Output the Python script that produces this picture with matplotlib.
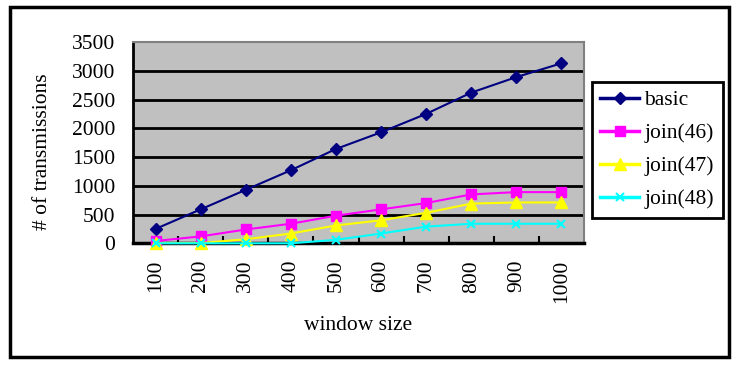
import matplotlib.pyplot as plt
from matplotlib.patches import Rectangle
import numpy as np

plt.rcParams['font.family'] = ['Liberation Serif', 'DejaVu Serif']

# window sizes (categories)
window = ['100', '200', '300', '400', '500', '600', '700', '800', '900', '1000']

# number of transmissions
basic = [250, 590, 930, 1270, 1640, 1930, 2250, 2620, 2890, 3130]
join46 = [40, 120, 240, 340, 480, 590, 700, 850, 890, 890]
join47 = [5, 5, 70, 170, 310, 400, 530, 690, 710, 710]
join48 = [0, 0, 0, 0, 60, 170, 290, 340, 340, 340]

yticks = [0, 500, 1000, 1500, 2000, 2500, 3000, 3500]

fig = plt.figure(figsize=(7.41, 3.69), dpi=100)
ax = fig.add_axes([133/741, 1-243.3/369, 451/741, 201.3/369])
ax.set_facecolor('#C0C0C0')

x = np.arange(len(window))

ax.plot(x, basic, color='#000080', lw=1.5, marker='D', ms=6, label='basic', clip_on=False, zorder=3)
ax.plot(x, join46, color='#FF00FF', lw=1.5, marker='s', ms=7.5, label='join(46)', clip_on=False, zorder=3)
ax.plot(x, join47, color='#FFFF00', lw=1.5, marker='^', ms=8, label='join(47)', clip_on=False, zorder=3)
ax.plot(x, join48, color='#00FFFF', lw=1.5, marker='x', ms=5.5, mew=1.5, label='join(48)', clip_on=False, zorder=3)

ax.set_xlim(-0.5, len(window) - 0.5)
ax.set_ylim(0, 3500)
ax.set_yticks(yticks)
ax.set_yticklabels([str(v) for v in yticks], fontsize=15.5)
ax.set_xticks(x)
ax.set_xticklabels(window, rotation=90, fontsize=15.5)
ax.set_xticks(np.arange(0.5, len(window) - 1, 1), minor=True)
ax.tick_params(axis='x', which='major', length=0, pad=12)
ax.tick_params(axis='x', which='minor', direction='in', length=5, width=1.5, color='black')
ax.tick_params(axis='y', length=0, pad=13)

for v in yticks[1:-1]:
    ax.axhline(v, color='black', lw=2, zorder=1)

ax.spines['left'].set_linewidth(2)
ax.spines['bottom'].set_linewidth(2.5)
ax.spines['top'].set_color('#808080')
ax.spines['right'].set_color('#808080')
ax.spines['top'].set_linewidth(1.5)
ax.spines['right'].set_linewidth(1.5)

fig.text(43/741, 1-152/369, '# of transmissions', rotation=90, ha='center', va='center', fontsize=15.5)
fig.text(358/741, 1-325/369, 'window size', ha='center', va='center', fontsize=15.5)

leg = ax.legend(loc='upper left', bbox_to_anchor=(591.7/741, 1-81.7/369),
                bbox_transform=fig.transFigure, borderaxespad=0, fontsize=15.5,
                fancybox=False, framealpha=1, edgecolor='black',
                handlelength=1.8, labelspacing=0.6, borderpad=0.4, handletextpad=0.25)
leg.get_frame().set_linewidth(2)
for h in leg.get_lines():
    h.set_linewidth(2.5)

fig.patches.append(Rectangle((10/741, 1-357/369), 719/741, 350/369, transform=fig.transFigure,
                             fill=False, edgecolor='black', lw=2.5))

fig.savefig('out.png', dpi=100)
